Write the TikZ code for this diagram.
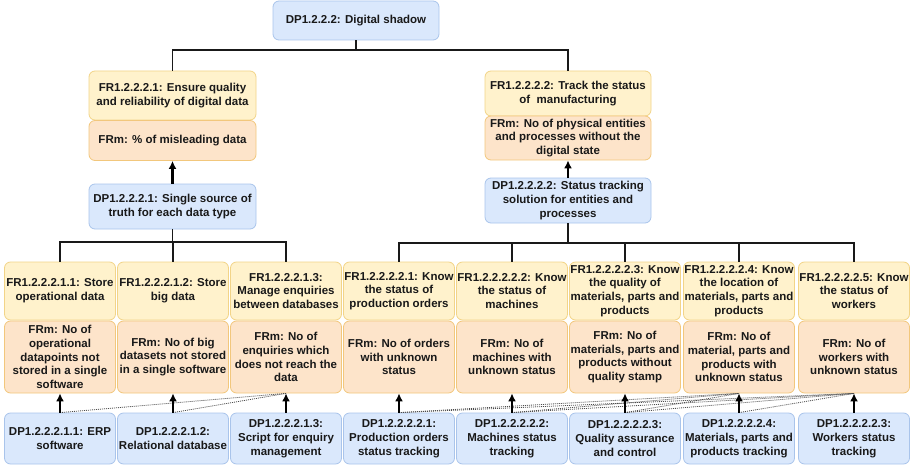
\documentclass[tikz,border=0pt]{standalone}
\usepackage{fontspec}
\setmainfont{Liberation Sans}
\usetikzlibrary{arrows.meta}
\definecolor{bluef}{HTML}{DAE8FC}
\definecolor{blued}{HTML}{A9C4EB}
\definecolor{yelf}{HTML}{FFF2CC}
\definecolor{yeld}{HTML}{F2D488}
\definecolor{oraf}{HTML}{FDE4CA}
\definecolor{orad}{HTML}{F2C77C}
\tikzset{
  box/.style={rounded corners=6pt, line width=0.8pt, align=center, inner sep=1pt,
    font=\fontsize{11.5}{13.8}\selectfont\bfseries, text=black!90},
  dpbox/.style={box, fill=bluef, draw=blued},
  frbox/.style={box, fill=yelf, draw=yeld},
  fmbox/.style={box, fill=oraf, draw=orad},
  col/.style={minimum width=111pt},
  frrow/.style={col, minimum height=58pt},
  fmrow/.style={col, minimum height=72pt},
  dprow/.style={col, minimum height=51pt},
  tree/.style={line width=1.6pt, draw=black!90},
  dparrow/.style={line width=2.2pt, draw=black, -{Latex[length=8pt,width=8pt]}},
  dep/.style={line width=0.8pt, draw=black!70, dash pattern=on 1pt off 1pt}
}
\begin{document}
\begin{tikzpicture}[x=1pt,y=-1pt]
\useasboundingbox (0,0) rectangle (915,468);

% top level
\node[dpbox, minimum width=166pt, minimum height=39pt] (top) at (356,20.5) {DP1.2.2.2: Digital shadow};

\node[frbox, minimum width=167pt, minimum height=49pt] (fra) at (172.5,95.5) {FR1.2.2.2.1: Ensure quality\\and reliability of digital data};
\node[fmbox, minimum width=167pt, minimum height=40pt] (fma) at (172.5,140.5) {FRm: \% of misleading data};
\node[dpbox, minimum width=167pt, minimum height=45pt] (dpa) at (172.5,206.5) {DP1.2.2.2.1: Single source of\\truth for each data type};

\node[frbox, minimum width=166pt, minimum height=45pt] (frb) at (568,93.5) {FR1.2.2.2.2: Track the status\\of\ \ manufacturing};
\node[fmbox, minimum width=166pt, minimum height=44pt] (fmb) at (568,138) {FRm: No of physical entities\\and processes without the\\digital state};
\node[dpbox, minimum width=166pt, minimum height=45pt] (dpb) at (568,200.5) {DP1.2.2.2.2: Status tracking\\solution for entities and\\processes};

% FR row
\node[frbox, frrow] (fr1) at (60,291) {FR1.2.2.2.1.1: Store\\operational data};
\node[frbox, frrow] (fr2) at (173,291) {FR1.2.2.2.1.2: Store\\big data};
\node[frbox, frrow] (fr3) at (286,291) {FR1.2.2.2.1.3:\\Manage enquiries\\between databases};
\node[frbox, frrow] (fr4) at (399,291) {FR1.2.2.2.2.1: Know\\the status of\\production orders};
\node[frbox, frrow] (fr5) at (512,291) {FR1.2.2.2.2.2: Know\\the status of\\machines};
\node[frbox, frrow] (fr6) at (625,291) {FR1.2.2.2.2.3: Know\\the quality of\\materials, parts and\\products};
\node[frbox, frrow] (fr7) at (739,291) {FR1.2.2.2.2.4: Know\\the location of\\materials, parts and\\products};
\node[frbox, frrow] (fr8) at (854,291) {FR1.2.2.2.2.5: Know\\the status of\\workers};

% FRm row
\node[fmbox, fmrow] (fm1) at (60,357) {FRm: No of\\operational\\datapoints not\\stored in a single\\software};
\node[fmbox, fmrow] (fm2) at (173,357) {FRm: No of big\\datasets not stored\\in a single software};
\node[fmbox, fmrow] (fm3) at (286,357) {FRm: No of\\enquiries which\\does not reach the\\data};
\node[fmbox, fmrow] (fm4) at (399,357) {FRm: No of orders\\with unknown\\status};
\node[fmbox, fmrow] (fm5) at (512,357) {FRm: No of\\machines with\\unknown status};
\node[fmbox, fmrow] (fm6) at (625,357) {FRm: No of\\materials, parts and\\products without\\quality stamp};
\node[fmbox, fmrow] (fm7) at (739,357) {FRm: No of\\material, parts and\\products with\\unknown status};
\node[fmbox, fmrow] (fm8) at (854,357) {FRm: No of\\workers with\\unknown status};

% DP row
\node[dpbox, dprow] (dp1) at (60,438.5) {DP1.2.2.2.1.1: ERP\\software};
\node[dpbox, dprow] (dp2) at (173,438.5) {DP1.2.2.2.1.2:\\Relational database};
\node[dpbox, dprow] (dp3) at (286,438.5) {DP1.2.2.2.1.3:\\Script for enquiry\\management};
\node[dpbox, dprow] (dp4) at (399,438.5) {DP1.2.2.2.2.1:\\Production orders\\status tracking};
\node[dpbox, dprow] (dp5) at (512,438.5) {DP1.2.2.2.2.2:\\Machines status\\tracking};
\node[dpbox, dprow] (dp6) at (625,438.5) {DP1.2.2.2.2.3:\\Quality assurance\\and control};
\node[dpbox, dprow] (dp7) at (739,438.5) {DP1.2.2.2.2.4:\\Materials, parts and\\products tracking};
\node[dpbox, dprow] (dp8) at (854,438.5) {DP1.2.2.2.2.3:\\Workers status\\tracking};

% bus coordinates
\coordinate (bus0) at (0,50);
\coordinate (busa) at (0,242);
\coordinate (busb) at (0,243);

% tree connectors
\draw[tree] (top.south) -- (top.south |- bus0) -| (fra.north);
\draw[tree] (top.south |- bus0) -| (frb.north);
\foreach \i in {1,2,3} {
  \draw[tree] (dpa.south) -- (dpa.south |- busa) -| (fr\i.north);
}
\foreach \i in {4,5,6,7,8} {
  \draw[tree] (dpb.south) -- (dpb.south |- busb) -| (fr\i.north);
}

% dependency (dotted) lines
\draw[dep] (dp1.north) -- (fm3.south);
\draw[dep] (dp2.north) -- (fm3.south);
\foreach \a/\b in {4/7,4/8,5/7,5/8,6/7,6/8,7/8} {
  \draw[dep] (dp\a.north) -- (fm\b.south);
}

% arrows DP -> FRm
\draw[dparrow] (dpa.north) -- (fma.south);
\draw[dparrow] (dpb.north) -- (fmb.south);
\foreach \i in {1,...,8} {
  \draw[dparrow] (dp\i.north) -- (fm\i.south);
}
\end{tikzpicture}
\end{document}
